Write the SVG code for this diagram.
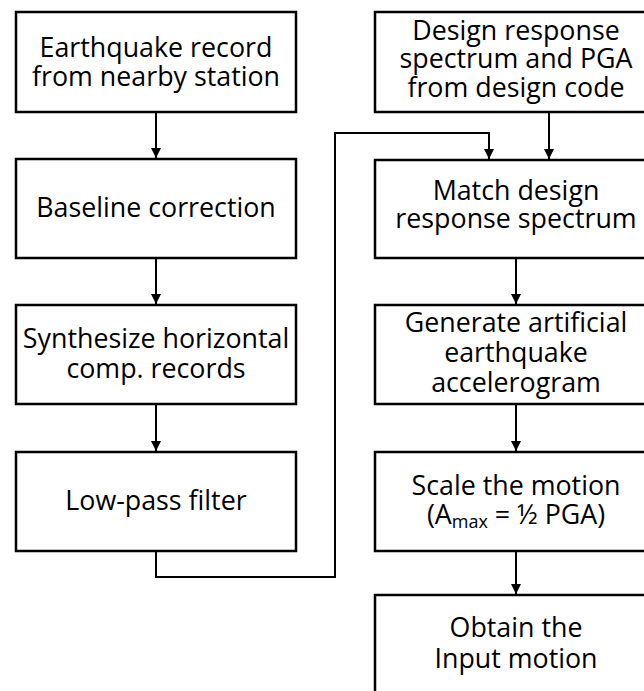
<svg xmlns="http://www.w3.org/2000/svg" width="644" height="691" viewBox="0 0 644 691">
<style>
.box{fill:#fff;stroke:#000;stroke-width:2.5}
.t{font-family:"Open Sans","Noto Sans",sans-serif;font-size:26.8px;text-anchor:middle;fill:#000}
.c{fill:none;stroke:#000;stroke-width:2}
</style>
<defs>
<marker id="ah" markerWidth="12" markerHeight="12" refX="10" refY="5" orient="auto" markerUnits="userSpaceOnUse">
<path d="M0,0 L10,5 L0,10 Z" fill="#000"/>
</marker>
</defs>
<rect width="644" height="691" fill="#fff"/>
<g id="connectors">
<path class="c" d="M156,112 V158" marker-end="url(#ah)"/>
<path class="c" d="M156,258 V304" marker-end="url(#ah)"/>
<path class="c" d="M156,404 V451" marker-end="url(#ah)"/>
<path class="c" d="M156,551 V577 H335 V133 H489 V159" marker-end="url(#ah)"/>
<path class="c" d="M549,112 V159" marker-end="url(#ah)"/>
<path class="c" d="M516,258 V304" marker-end="url(#ah)"/>
<path class="c" d="M516,404 V451" marker-end="url(#ah)"/>
<path class="c" d="M516,551 V594" marker-end="url(#ah)"/>
</g>
<g id="n1"><rect class="box" x="16" y="12" width="280" height="100"/>
<text class="t" x="156" y="57">Earthquake record</text><text class="t" x="156" y="86">from nearby station</text></g>
<g id="n2"><rect class="box" x="16" y="159" width="280" height="99"/>
<text class="t" x="156" y="217">Baseline correction</text></g>
<g id="n3"><rect class="box" x="16" y="305" width="280" height="99"/>
<text class="t" x="156" y="348">Synthesize horizontal</text><text class="t" x="156" y="378">comp. records</text></g>
<g id="n4"><rect class="box" x="16" y="452" width="280" height="99"/>
<text class="t" x="156" y="510">Low-pass filter</text></g>
<g id="n5"><rect class="box" x="375" y="12" width="282" height="100"/>
<text class="t" x="516" y="40">Design response</text><text class="t" x="516" y="68">spectrum and PGA</text><text class="t" x="516" y="97">from design code</text></g>
<g id="n6"><rect class="box" x="375" y="160" width="282" height="98"/>
<text class="t" x="516" y="200">Match design</text><text class="t" x="516" y="228">response spectrum</text></g>
<g id="n7"><rect class="box" x="375" y="305" width="282" height="99"/>
<text class="t" x="516" y="332">Generate artificial</text><text class="t" x="516" y="362">earthquake</text><text class="t" x="516" y="392">accelerogram</text></g>
<g id="n8"><rect class="box" x="375" y="452" width="282" height="99"/>
<text class="t" x="516" y="495">Scale the motion</text><text class="t" x="516" y="524">(A<tspan font-size="18" dy="4">max</tspan><tspan dy="-4"> = ½ PGA)</tspan></text></g>
<g id="n9"><rect class="box" x="375" y="595" width="282" height="110"/>
<text class="t" x="516" y="637">Obtain the</text><text class="t" x="516" y="668">Input motion</text></g>
</svg>
